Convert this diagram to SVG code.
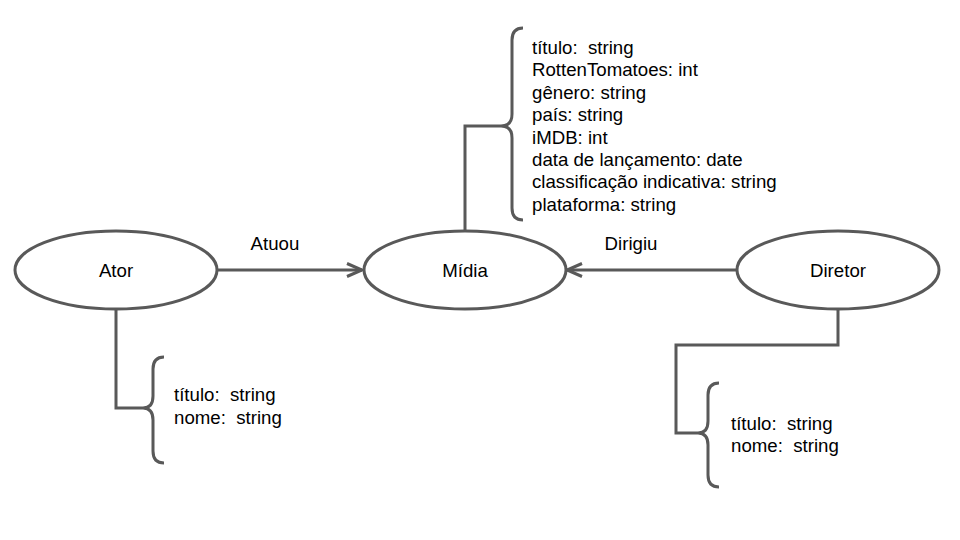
<svg xmlns="http://www.w3.org/2000/svg" width="960" height="540" viewBox="0 0 960 540">
<style>
.shape{fill:#fff;stroke:#595959;stroke-width:3}
.ln{fill:none;stroke:#595959;stroke-width:3;stroke-linejoin:miter}
.br{fill:none;stroke:#595959;stroke-width:3;stroke-linecap:butt}
text{font-family:"Liberation Sans",Arial,sans-serif;font-size:18.67px;fill:#000;white-space:pre}
.c{text-anchor:middle}
</style>
<defs>
<marker id="arr" viewBox="0 0 20 16" refX="18" refY="8" markerWidth="20" markerHeight="16" markerUnits="userSpaceOnUse" orient="auto">
<path d="M3,1.5 L18,8 L3,14.5" fill="none" stroke="#595959" stroke-width="3"/>
</marker>
</defs>
<rect width="960" height="540" fill="#fff"/>
<g id="connectors">
<path class="ln" d="M217,270 L362,270" marker-end="url(#arr)"/>
<path class="ln" d="M737,270 L567,270" marker-end="url(#arr)"/>
<path class="ln" d="M465,231 L465,126 L501,126"/>
<path class="ln" d="M116,309 L116,408 L143,408"/>
<path class="ln" d="M838,309 L838,345 L676,345 L676,433 L698,433"/>
<text class="c" x="275" y="250">Atuou</text>
<text class="c" x="631" y="250">Dirigiu</text>
</g>
<g id="ator">
<ellipse class="shape" cx="116" cy="270" rx="101" ry="39"/>
<text class="c" x="116" y="277">Ator</text>
</g>
<g id="midia">
<ellipse class="shape" cx="465" cy="270" rx="101" ry="39"/>
<text class="c" x="465" y="277">Mídia</text>
</g>
<g id="diretor">
<ellipse class="shape" cx="838" cy="270" rx="101" ry="39"/>
<text class="c" x="838" y="277">Diretor</text>
</g>
<g id="midia-attrs">
<path class="br" d="M523,28 Q512,28 512,40 L512,114 Q512,126 501,126 Q512,126 512,138 L512,208 Q512,220 523,220"/>
<text x="532" y="54">título:  string</text>
<text x="532" y="76.4">RottenTomatoes: int</text>
<text x="532" y="98.8">gênero: string</text>
<text x="532" y="121.2">país: string</text>
<text x="532" y="143.6">iMDB: int</text>
<text x="532" y="166">data de lançamento: date</text>
<text x="532" y="188.4">classificação indicativa: string</text>
<text x="532" y="210.8">plataforma: string</text>
</g>
<g id="ator-attrs">
<path class="br" d="M164,357 Q153,357 153,369 L153,396 Q153,408 143,408 Q153,408 153,420 L153,451 Q153,463 164,463"/>
<text x="174" y="401">título:  string</text>
<text x="174" y="424">nome:  string</text>
</g>
<g id="diretor-attrs">
<path class="br" d="M719,383 Q708,383 708,395 L708,421 Q708,433 698,433 Q708,433 708,445 L708,475 Q708,487 719,487"/>
<text x="731" y="430">título:  string</text>
<text x="731" y="452">nome:  string</text>
</g>
</svg>
